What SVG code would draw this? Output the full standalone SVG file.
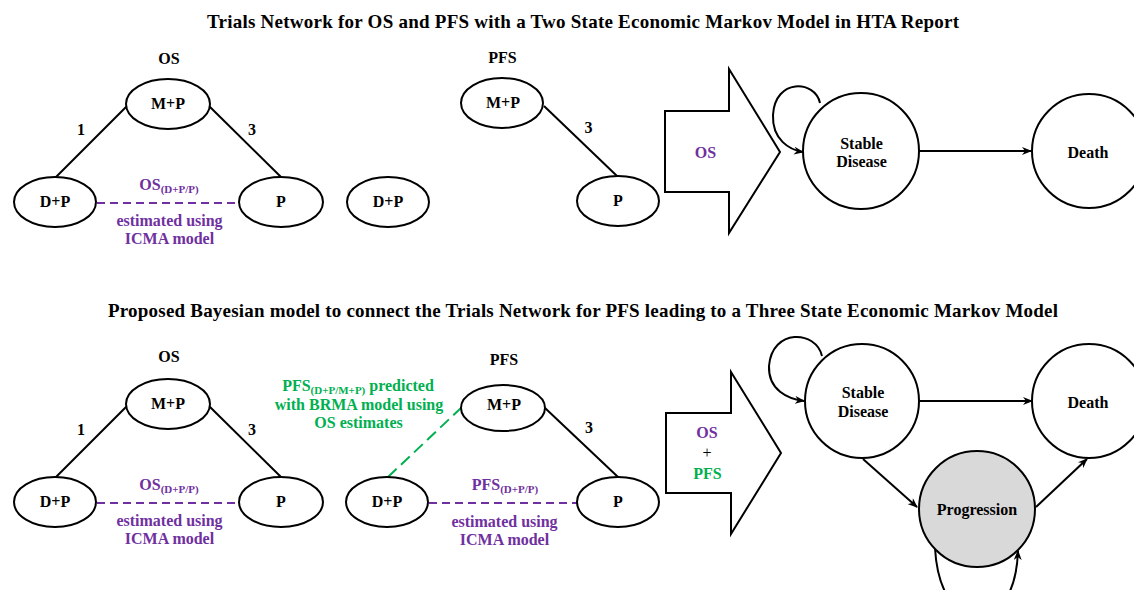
<svg xmlns="http://www.w3.org/2000/svg" width="1134" height="590" viewBox="0 0 1134 590" font-family="'Liberation Serif', Tinos, 'DejaVu Serif', 'Noto Serif', 'Times New Roman', serif">
<style>
text{font-family:'Liberation Serif',Tinos,'DejaVu Serif','Noto Serif','Times New Roman',serif;font-weight:bold;text-anchor:middle;fill:#000}
.title{font-size:19px}
.t{font-size:16px}
.sub{font-size:11px}
.pur{fill:#7030a0}
.grn{fill:#00b050}
.node{fill:#fff;stroke:#000;stroke-width:2}
.prog{fill:#d9d9d9;stroke:#000;stroke-width:2}
.edge{fill:none;stroke:#000;stroke-width:2}
.arr{fill:none;stroke:#000;stroke-width:2;marker-end:url(#ah)}
.pdash{fill:none;stroke:#7030a0;stroke-width:2;stroke-dasharray:8 5}
.gdash{fill:none;stroke:#00b050;stroke-width:2;stroke-dasharray:12 6}
.big{fill:#fff;stroke:#000;stroke-width:2}
</style>
<defs>
<marker id="ah" markerUnits="userSpaceOnUse" markerWidth="10" markerHeight="8" refX="9" refY="4" orient="auto">
<path d="M0,0 L10,4 L0,8 L3,4 z" fill="#000"/>
</marker>
</defs>

<text class="title" x="583" y="28" textLength="752" lengthAdjust="spacing">Trials Network for OS and PFS with a Two State Economic Markov Model in HTA Report</text>
<text class="title" x="583" y="317" textLength="950" lengthAdjust="spacing">Proposed Bayesian model to connect the Trials Network for PFS leading to a Three State Economic Markov Model</text>

<g id="connectors">
<line class="edge" x1="127" y1="106" x2="56" y2="177"/>
<line class="edge" x1="209" y1="106" x2="281" y2="177"/>
<line class="pdash" x1="97" y1="203" x2="240" y2="203"/>
<line class="edge" x1="544" y1="106" x2="617" y2="176"/>
<line class="arr" x1="919" y1="151" x2="1031" y2="151"/>
<path class="arr" d="M 820,103 C 815,80 775,78 773,115 C 772,140 790,150 803,152"/>
<line class="edge" x1="127" y1="406" x2="56" y2="477"/>
<line class="edge" x1="209" y1="406" x2="281" y2="477"/>
<line class="pdash" x1="97" y1="503" x2="240" y2="503"/>
<line class="edge" x1="545" y1="408" x2="618" y2="477"/>
<line class="gdash" x1="462" y1="407" x2="388" y2="477"/>
<line class="pdash" x1="429" y1="503" x2="577" y2="503"/>
<line class="arr" x1="920" y1="401" x2="1032" y2="401"/>
<path class="arr" d="M 822,356 C 816,330 772,328 769,366 C 768,390 788,399 804,401"/>
<line class="arr" x1="863" y1="459" x2="917" y2="507"/>
<line class="arr" x1="1036" y1="507" x2="1087" y2="459"/>
<path class="arr" d="M 935,548 C 940,640 1015,640 1018,551"/>
</g>

<g id="edge-labels">
<text class="t" x="169" y="64">OS</text>
<text class="t" x="81" y="135">1</text>
<text class="t" x="252" y="135">3</text>
<text class="t pur" x="169" y="190">OS<tspan class="sub" dy="3">(D+P/P)</tspan></text>
<text class="t pur" x="169.5" y="226">estimated using</text>
<text class="t pur" x="169.5" y="244">ICMA model</text>

<text class="t" x="502.5" y="63">PFS</text>
<text class="t" x="588.5" y="133">3</text>

<text class="t" x="169" y="362">OS</text>
<text class="t" x="81" y="435">1</text>
<text class="t" x="252" y="435">3</text>
<text class="t pur" x="169" y="490">OS<tspan class="sub" dy="3">(D+P/P)</tspan></text>
<text class="t pur" x="169.5" y="526">estimated using</text>
<text class="t pur" x="169.5" y="544">ICMA model</text>

<text class="t" x="504" y="365">PFS</text>
<text class="t" x="589" y="433">3</text>
<text class="t pur" x="505" y="490">PFS<tspan class="sub" dy="3">(D+P/P)</tspan></text>
<text class="t pur" x="504.5" y="527">estimated using</text>
<text class="t pur" x="504.5" y="545">ICMA model</text>
<text class="t grn" x="358" y="391">PFS<tspan class="sub" dy="3">(D+P/M+P)</tspan><tspan dy="-3"> predicted</tspan></text>
<text class="t grn" x="359" y="410">with BRMA model using</text>
<text class="t grn" x="358.5" y="428">OS estimates</text>
</g>

<g id="os1-mp"><ellipse class="node" cx="168" cy="104" rx="42" ry="25"/><text class="t" x="168" y="109">M+P</text></g>
<g id="os1-dp"><ellipse class="node" cx="55" cy="202" rx="41" ry="25"/><text class="t" x="55" y="207">D+P</text></g>
<g id="os1-p"><ellipse class="node" cx="281" cy="202" rx="42" ry="25"/><text class="t" x="281" y="207">P</text></g>
<g id="pfs1-dp"><ellipse class="node" cx="388" cy="202" rx="41" ry="25"/><text class="t" x="388" y="207">D+P</text></g>
<g id="pfs1-mp"><ellipse class="node" cx="502" cy="103" rx="41" ry="25"/><text class="t" x="503" y="108">M+P</text></g>
<g id="pfs1-p"><ellipse class="node" cx="618" cy="201" rx="41" ry="25"/><text class="t" x="618" y="206">P</text></g>

<g id="arrow1"><polygon class="big" points="665,111 729,111 729,69 780,152 729,233 729,192 665,192"/><text class="t pur" x="705.5" y="158">OS</text></g>

<g id="sd1"><circle class="node" cx="861" cy="151" r="58"/><text class="t" x="861.5" y="149">Stable</text><text class="t" x="861.5" y="167">Disease</text></g>
<g id="death1"><circle class="node" cx="1089" cy="151" r="57"/><text class="t" x="1088" y="158">Death</text></g>

<g id="os2-mp"><ellipse class="node" cx="168" cy="404" rx="42" ry="25"/><text class="t" x="168" y="409">M+P</text></g>
<g id="os2-dp"><ellipse class="node" cx="55" cy="502" rx="41" ry="25"/><text class="t" x="55" y="507">D+P</text></g>
<g id="os2-p"><ellipse class="node" cx="281" cy="502" rx="42" ry="25"/><text class="t" x="281" y="507">P</text></g>
<g id="pfs2-mp"><ellipse class="node" cx="503" cy="408" rx="42" ry="23"/><text class="t" x="504" y="410">M+P</text></g>
<g id="pfs2-dp"><ellipse class="node" cx="387" cy="502" rx="41" ry="25"/><text class="t" x="387" y="507">D+P</text></g>
<g id="pfs2-p"><ellipse class="node" cx="618" cy="502" rx="41" ry="25"/><text class="t" x="618" y="507">P</text></g>

<g id="arrow2"><polygon class="big" points="666,413 731,413 731,372 781,453 731,534 731,493 666,493"/>
<text class="t pur" x="707" y="438">OS</text>
<text class="t" x="707" y="458" style="font-weight:normal">+</text>
<text class="t grn" x="707.5" y="479">PFS</text></g>

<g id="sd2"><circle class="node" cx="862" cy="401" r="57"/><text class="t" x="863" y="398">Stable</text><text class="t" x="863" y="417">Disease</text></g>
<g id="death2"><circle class="node" cx="1089" cy="401" r="57"/><text class="t" x="1088" y="408">Death</text></g>
<g id="prog2"><circle class="prog" cx="977" cy="509" r="58"/><text class="t" x="977" y="515">Progression</text></g>
</svg>
